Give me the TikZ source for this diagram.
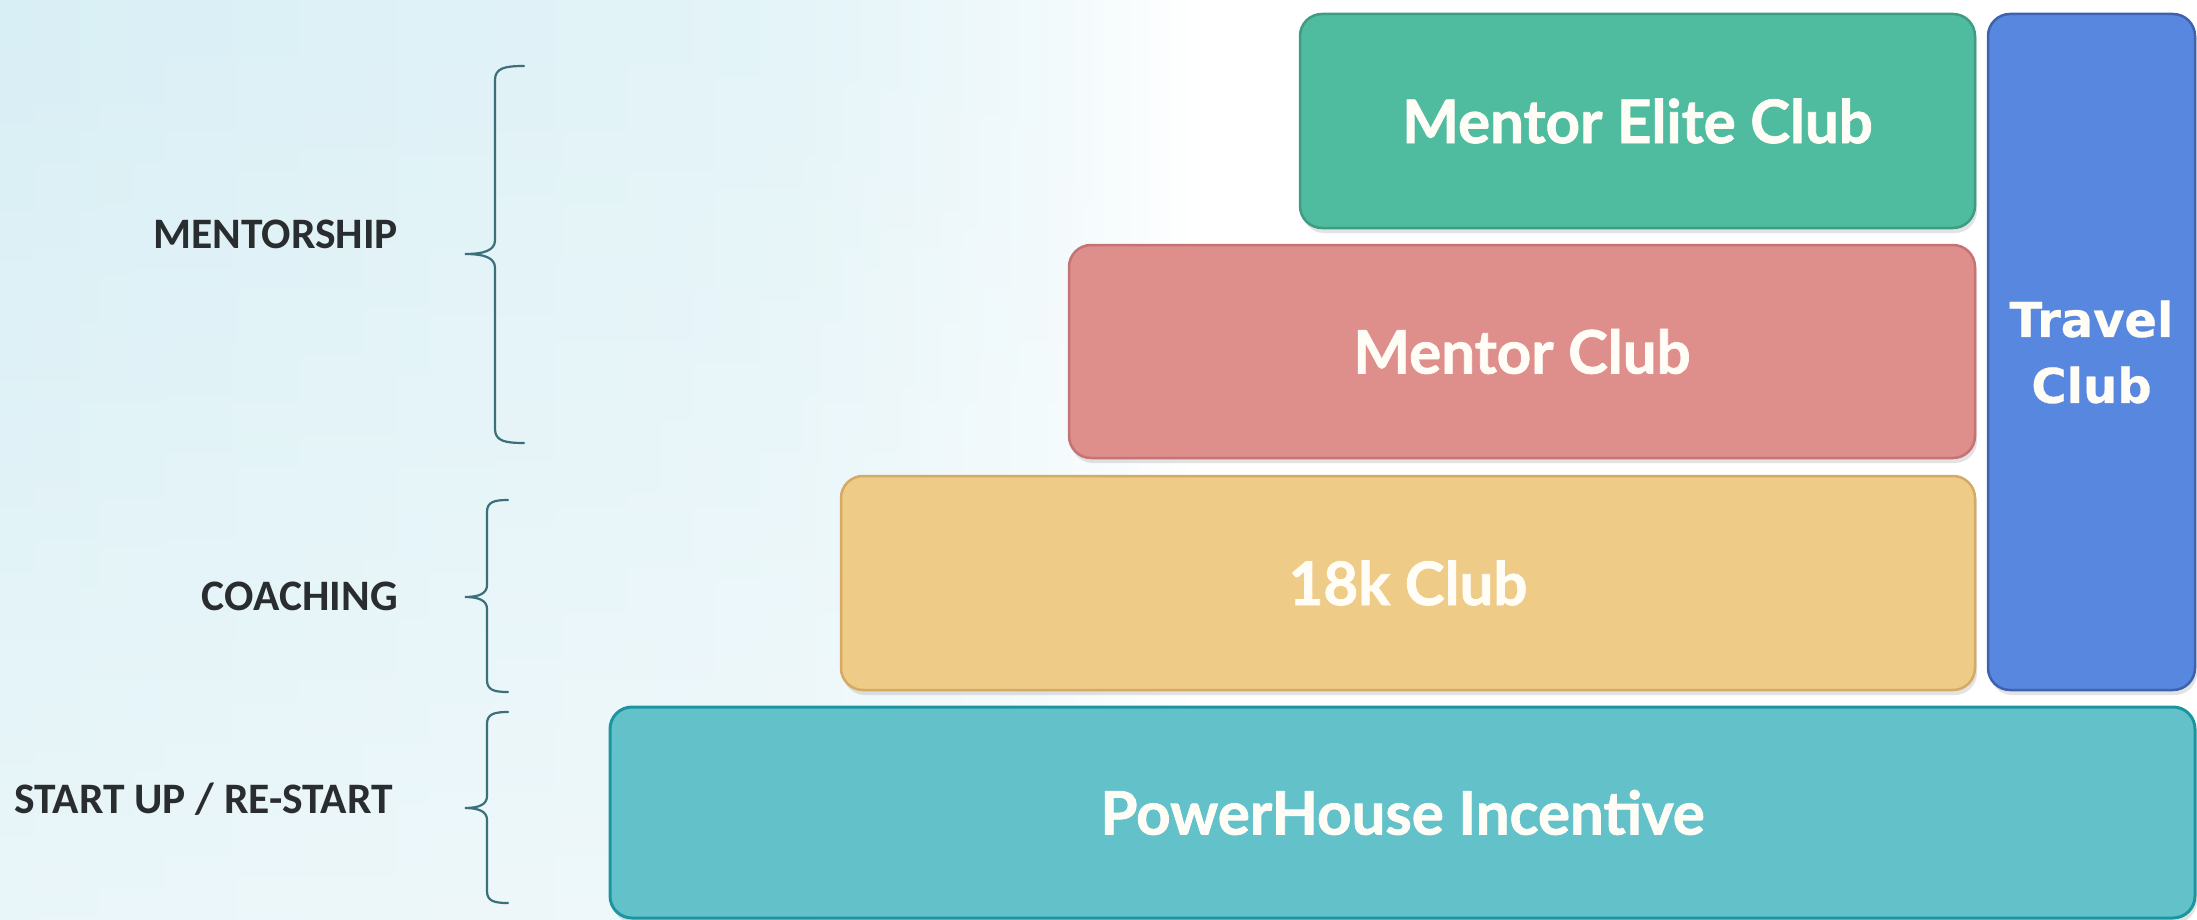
\documentclass[tikz,border=0pt]{standalone}
\usepackage{fontspec}
\setmainfont{Lato}[BoldFeatures={FakeBold=1.3}]
\newfontfamily\labfont{Carlito}
\newfontfamily\travfont{DejaVu Sans}[BoldFeatures={FakeBold=0.6}]
\usetikzlibrary{shadows,fadings}
\definecolor{elitefill}{HTML}{4FBB9F}
\definecolor{eliteline}{HTML}{3F9C84}
\definecolor{mentorfill}{HTML}{DE8F8C}
\definecolor{mentorline}{HTML}{C47474}
\definecolor{kfill}{HTML}{EFCB88}
\definecolor{kline}{HTML}{D5AA62}
\definecolor{powerfill}{HTML}{63C1C9}
\definecolor{powerline}{HTML}{1B96A0}
\definecolor{travelfill}{HTML}{5787DE}
\definecolor{travelline}{HTML}{3E62AE}
\definecolor{bracecol}{HTML}{3B6F79}
\definecolor{labcol}{HTML}{2A2D2F}
\definecolor{bgblue}{HTML}{D8EFF5}
\definecolor{bgblue2}{HTML}{E4F4F8}
\definecolor{boxtext}{HTML}{FFFDF6}
\pgfdeclarehorizontalshading{bgshade}{100bp}{color(0bp)=(bgblue); color(25bp)=(bgblue); color(58bp)=(bgblue2); color(68bp)=(bgblue2!55!white); color(75bp)=(white); color(100bp)=(white)}
\begin{document}
\begin{tikzpicture}[x=1pt,y=-1pt,
  clubbox/.style={rounded corners=22pt, line width=2.5pt, inner sep=0pt,
    text=boxtext, font=\bfseries\fontsize{60}{66}\selectfont,
    drop shadow={opacity=0.22, shadow xshift=2pt, shadow yshift=-5pt}},
  lab/.style={inner sep=0pt, text=labcol, font=\labfont\bfseries\fontsize{43.5}{48}\selectfont},
  bracepath/.style={draw=bracecol, line width=2.2pt, line cap=round}]
\useasboundingbox (0,0) rectangle (2197,920);
% background
\fill[white] (0,0) rectangle (2197,920);
\shade[shading=bgshade] (0,0) rectangle (1200,920);
\fill[white, opacity=0.45, path fading=north] (0,0) rectangle (1200,920);
% boxes
\node[clubbox, fill=elitefill, draw=eliteline, minimum width=675pt, minimum height=214pt]
  (elite) at (1637.5,121) {Mentor Elite Club};
\node[clubbox, fill=mentorfill, draw=mentorline, minimum width=906pt, minimum height=213pt]
  (mentor) at (1522,351.5) {Mentor Club};
\node[clubbox, fill=kfill, draw=kline, minimum width=1134pt, minimum height=214pt]
  (club18k) at (1408,583) {18k Club};
\node[clubbox, fill=travelfill, draw=travelline, minimum width=207pt, minimum height=676pt,
  align=center, font=\travfont\bfseries\fontsize{48}{66}\selectfont]
  (travel) at (2091.5,352) {Travel\\Club};
\node[clubbox, fill=powerfill, draw=powerline, line width=3pt, minimum width=1585pt, minimum height=211pt]
  (power) at (1402.5,812.5) {PowerHouse Incentive};
% labels
\node[lab, anchor=base east] (mentorship) at (398,248) {MENTORSHIP};
\node[lab, anchor=base east] (coaching) at (398,610) {COACHING};
\node[lab, anchor=base east] (startup) at (393,813) {START UP / RE-START};
% braces
\draw[bracepath] (524,66) .. controls (505,66) and (495,68) .. (495,80)
  -- (495,240) .. controls (495,250) and (485,254) .. (465,254)
  .. controls (485,254) and (495,258) .. (495,268)
  -- (495,429) .. controls (495,441) and (505,443) .. (524,443);
\draw[bracepath] (508,500) .. controls (494,500) and (487,502) .. (487,512)
  -- (487,585) .. controls (487,593) and (480,597) .. (465,597)
  .. controls (480,597) and (487,601) .. (487,609)
  -- (487,680) .. controls (487,690) and (494,692) .. (508,692);
\draw[bracepath] (508,712) .. controls (494,712) and (487,714) .. (487,724)
  -- (487,796) .. controls (487,804) and (480,808) .. (465,808)
  .. controls (480,808) and (487,812) .. (487,820)
  -- (487,891) .. controls (487,901) and (494,903) .. (508,903);
\end{tikzpicture}
\end{document}
